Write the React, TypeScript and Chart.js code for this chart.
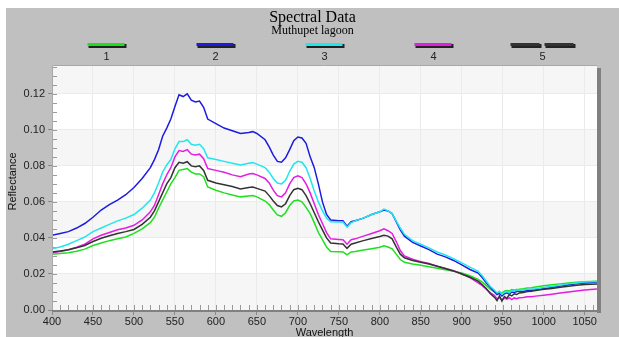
import React, { useEffect, useRef } from 'react';
import { Chart, registerables } from 'chart.js';
Chart.register(...registerables);

const TITLE = 'Spectral Data';
const SUBTITLE = 'Muthupet lagoon';
const X_TITLE = 'Wavelength';
const Y_TITLE = 'Reflectance';
const SERIES_LABELS = ['1', '2', '3', '4', '5'];
const SERIES_COLORS = ['#1ee01e', '#1c1ce0', '#22e6ee', '#e21ee2', '#333333'];

const WAVELENGTHS = [
  400, 410, 420, 430, 440, 450, 460, 470, 480, 490,
  500, 510, 520, 525, 530, 535, 540, 545, 550, 555,
  560, 565, 570, 575, 580, 585, 590, 600, 610, 620,
  630, 640, 645, 650, 660, 665, 670, 675, 680, 685,
  690, 695, 700, 705, 710, 715, 720, 725, 730, 735,
  740, 750, 755, 760, 765, 770, 780, 790, 800, 805,
  810, 815, 820, 825, 830, 840, 850, 860, 870, 880,
  890, 900, 910, 920, 925, 930, 935, 940, 943, 946,
  949, 952, 955, 958, 961, 964, 967, 970, 975, 980,
  985, 990, 1000, 1010, 1020, 1030, 1040, 1050, 1065,
];

const S1_GREEN = [
  0.0310, 0.0313, 0.0318, 0.0326, 0.0338, 0.0358, 0.0372, 0.0385, 0.0395, 0.0405,
  0.0425, 0.0450, 0.0485, 0.0515, 0.0565, 0.0610, 0.0655, 0.0700, 0.0735, 0.0775,
  0.0780, 0.0785, 0.0765, 0.0755, 0.0755, 0.0740, 0.0683, 0.0665, 0.0650, 0.0638,
  0.0628, 0.0633, 0.0635, 0.0628, 0.0605, 0.0585, 0.0555, 0.0528, 0.0520, 0.0540,
  0.0580, 0.0605, 0.0610, 0.0600, 0.0570, 0.0535, 0.0485, 0.0430, 0.0390, 0.0350,
  0.0325, 0.0323, 0.0322, 0.0306, 0.0322, 0.0325, 0.0333, 0.0340, 0.0348, 0.0356,
  0.0350, 0.0340, 0.0310, 0.0280, 0.0265, 0.0255, 0.0248, 0.0240, 0.0232, 0.0224,
  0.0215, 0.0205, 0.0190, 0.0170, 0.0155, 0.0135, 0.0115, 0.0100, 0.0092, 0.0100,
  0.0094, 0.0104, 0.0108, 0.0105, 0.0113, 0.0110, 0.0114, 0.0115, 0.0118, 0.0122,
  0.0124, 0.0128, 0.0135, 0.0140, 0.0145, 0.0150, 0.0154, 0.0157, 0.0160,
];

const S2_BLUE = [
  0.0415, 0.0425, 0.0435, 0.0455, 0.0480, 0.0515, 0.0555, 0.0585, 0.0610, 0.0640,
  0.0680, 0.0730, 0.0790, 0.0835, 0.0890, 0.0965, 0.1010, 0.1060, 0.1130, 0.1195,
  0.1185, 0.1200, 0.1165, 0.1155, 0.1160, 0.1125, 0.1060, 0.1035, 0.1010, 0.0995,
  0.0980, 0.0985, 0.0990, 0.0980, 0.0945, 0.0905, 0.0860, 0.0825, 0.0820, 0.0845,
  0.0890, 0.0940, 0.0960, 0.0955, 0.0925, 0.0850, 0.0790, 0.0700, 0.0600, 0.0530,
  0.0500, 0.0495, 0.0495, 0.0465, 0.0490, 0.0495, 0.0510, 0.0530, 0.0545, 0.0555,
  0.0550, 0.0535, 0.0490, 0.0445, 0.0410, 0.0375, 0.0355, 0.0335, 0.0310, 0.0295,
  0.0275, 0.0250, 0.0225, 0.0205, 0.0180, 0.0150, 0.0125, 0.0100, 0.0085, 0.0092,
  0.0078, 0.0090, 0.0095, 0.0088, 0.0100, 0.0097, 0.0103, 0.0105, 0.0103, 0.0108,
  0.0110, 0.0112, 0.0118, 0.0125, 0.0133, 0.0140, 0.0145, 0.0150, 0.0155,
];

const S3_CYAN = [
  0.0340, 0.0350, 0.0365, 0.0385, 0.0405, 0.0435, 0.0455, 0.0475, 0.0495, 0.0510,
  0.0530, 0.0565, 0.0610, 0.0650, 0.0705, 0.0765, 0.0805, 0.0835, 0.0895, 0.0935,
  0.0935, 0.0945, 0.0920, 0.0915, 0.0920, 0.0895, 0.0845, 0.0835, 0.0825, 0.0815,
  0.0805, 0.0815, 0.0818, 0.0810, 0.0790, 0.0765, 0.0730, 0.0705, 0.0700, 0.0720,
  0.0770, 0.0810, 0.0825, 0.0820, 0.0790, 0.0730, 0.0660, 0.0600, 0.0550, 0.0510,
  0.0490, 0.0488, 0.0488, 0.0460, 0.0485, 0.0495, 0.0510, 0.0530, 0.0545, 0.0560,
  0.0550, 0.0535, 0.0495, 0.0455, 0.0420, 0.0385, 0.0365, 0.0345, 0.0322, 0.0305,
  0.0285, 0.0262, 0.0238, 0.0215, 0.0190, 0.0160, 0.0130, 0.0110, 0.0095, 0.0104,
  0.0088, 0.0098, 0.0102, 0.0095, 0.0108, 0.0104, 0.0110, 0.0110, 0.0112, 0.0115,
  0.0116, 0.0118, 0.0125, 0.0132, 0.0138, 0.0145, 0.0150, 0.0155, 0.0158,
];

const S4_MAGENTA = [
  0.0318, 0.0325, 0.0335, 0.0348, 0.0365, 0.0395, 0.0415, 0.0430, 0.0445, 0.0455,
  0.0470, 0.0500, 0.0545, 0.0580, 0.0640, 0.0700, 0.0750, 0.0790, 0.0850, 0.0885,
  0.0880, 0.0890, 0.0865, 0.0860, 0.0865, 0.0840, 0.0785, 0.0775, 0.0765, 0.0750,
  0.0740, 0.0755, 0.0758, 0.0750, 0.0730, 0.0705, 0.0665, 0.0635, 0.0628, 0.0650,
  0.0700, 0.0735, 0.0745, 0.0735, 0.0700, 0.0650, 0.0590, 0.0530, 0.0480, 0.0430,
  0.0395, 0.0392, 0.0390, 0.0365, 0.0390, 0.0395, 0.0410, 0.0425, 0.0440, 0.0450,
  0.0440, 0.0425, 0.0380, 0.0330, 0.0300, 0.0282, 0.0268, 0.0258, 0.0243, 0.0230,
  0.0218, 0.0200, 0.0180, 0.0150, 0.0135, 0.0115, 0.0095, 0.0080, 0.0062, 0.0070,
  0.0055, 0.0066, 0.0060, 0.0068, 0.0058, 0.0067, 0.0063, 0.0068, 0.0070, 0.0073,
  0.0074, 0.0077, 0.0082, 0.0088, 0.0094, 0.0100, 0.0106, 0.0111, 0.0117,
];

const S5_BLACK = [
  0.0322, 0.0328, 0.0335, 0.0345, 0.0358, 0.0380, 0.0398, 0.0412, 0.0425, 0.0435,
  0.0447, 0.0475, 0.0515, 0.0550, 0.0600, 0.0650, 0.0700, 0.0735, 0.0790, 0.0820,
  0.0815, 0.0823, 0.0800, 0.0795, 0.0800, 0.0775, 0.0720, 0.0705, 0.0695, 0.0685,
  0.0672, 0.0680, 0.0683, 0.0675, 0.0660, 0.0635, 0.0605, 0.0580, 0.0572, 0.0590,
  0.0635, 0.0668, 0.0675, 0.0668, 0.0635, 0.0590, 0.0540, 0.0490, 0.0445, 0.0400,
  0.0372, 0.0368, 0.0367, 0.0342, 0.0365, 0.0372, 0.0385, 0.0397, 0.0408, 0.0415,
  0.0410, 0.0395, 0.0350, 0.0310, 0.0290, 0.0275, 0.0265, 0.0255, 0.0243, 0.0230,
  0.0217, 0.0200, 0.0182, 0.0160, 0.0140, 0.0118, 0.0090, 0.0070, 0.0052, 0.0078,
  0.0050, 0.0075, 0.0065, 0.0085, 0.0078, 0.0090, 0.0086, 0.0095, 0.0097, 0.0102,
  0.0104, 0.0108, 0.0115, 0.0120, 0.0126, 0.0132, 0.0137, 0.0141, 0.0144,
];

const SERIES = [S1_GREEN, S2_BLUE, S3_CYAN, S4_MAGENTA, S5_BLACK];

const X_MIN = 400;
const X_MAX = 1065;
const X_STEP = 50;
const X_MINOR = 10;
const Y_MIN = 0;
const Y_MAX = 0.136;
const Y_STEP = 0.02;
const Y_MINOR = 0.005;

const SANS = '"Liberation Sans", Arial, sans-serif';
const SERIF = '"Liberation Serif", "Times New Roman", serif';

const stepTicks = (min: number, max: number, step: number) => {
  const out: { value: number }[] = [];
  const n = Math.floor((max - min) / step + 1e-6);
  for (let i = 0; i <= n; i++) out.push({ value: +(min + i * step).toFixed(6) });
  return out;
};

const decor = {
  id: 'decor',
  beforeDraw(chart: any) {
    const { ctx, chartArea: a, scales } = chart;
    const y = scales.y;
    ctx.save();
    ctx.fillStyle = '#ffffff';
    ctx.fillRect(a.left, a.top, a.right - a.left, a.bottom - a.top);
    ctx.fillStyle = '#f6f6f6';
    for (let b = Y_MIN; b < Y_MAX - 1e-9; b += 2 * Y_STEP) {
      const p0 = y.getPixelForValue(b);
      const p1 = y.getPixelForValue(Math.min(b + Y_STEP, Y_MAX));
      ctx.fillRect(a.left, p1, a.right - a.left, p0 - p1);
    }
    // titles
    ctx.fillStyle = '#000';
    ctx.textAlign = 'center';
    ctx.textBaseline = 'middle';
    ctx.font = `16px ${SERIF}`;
    ctx.fillText(TITLE, chart.width / 2, 10);
    ctx.font = `12px ${SERIF}`;
    ctx.fillText(SUBTITLE, chart.width / 2, 23);
    // legend
    const colW = (a.right - a.left) / SERIES_LABELS.length;
    chart.data.datasets.forEach((ds: any, i: number) => {
      const cx = a.left + colW * (i + 0.5);
      const sy = 37;
      const drawSwatch = (x0: number, w: number) => {
        ctx.fillStyle = '#222';
        ctx.fillRect(x0 + 1, sy - 1, w, 4);
        ctx.fillStyle = ds.borderColor;
        ctx.fillRect(x0, sy - 2, w - 1, 3);
      };
      if (i === 4) {
        drawSwatch(cx - 32, 30);
        drawSwatch(cx + 2, 30);
      } else {
        drawSwatch(cx - 19, 38);
      }
      ctx.fillStyle = '#222';
      ctx.font = `11px ${SANS}`;
      ctx.fillText(ds.label, cx, 49);
    });
    // axis titles
    ctx.font = `11px ${SANS}`;
    ctx.fillStyle = '#111';
    ctx.fillText(X_TITLE, (a.left + a.right) / 2, 325);
    ctx.save();
    ctx.translate(7, (a.top + a.bottom) / 2 - 6);
    ctx.rotate(-Math.PI / 2);
    ctx.fillText(Y_TITLE, 0, 0);
    ctx.restore();
    ctx.restore();
  },
  beforeDatasetsDraw(chart: any) {
    const { ctx, chartArea: a, scales } = chart;
    ctx.save();
    ctx.strokeStyle = '#9a9a9a';
    ctx.lineWidth = 1;
    ctx.beginPath();
    for (let v = X_MIN + X_MINOR; v < X_MAX; v += X_MINOR) {
      const px = Math.round(scales.x.getPixelForValue(v)) + 0.5;
      ctx.moveTo(px, a.bottom);
      ctx.lineTo(px, a.bottom - 5);
    }
    for (let v = Y_MIN + Y_MINOR; v < Y_MAX; v += Y_MINOR) {
      const py = Math.round(scales.y.getPixelForValue(v)) + 0.5;
      ctx.moveTo(a.left, py);
      ctx.lineTo(a.left + 5, py);
    }
    ctx.stroke();
    ctx.restore();
  },
  afterDatasetsDraw(chart: any) {
    const { ctx, chartArea: a } = chart;
    ctx.save();
    ctx.strokeStyle = '#a8a8a8';
    ctx.lineWidth = 1;
    ctx.beginPath();
    ctx.moveTo(a.left + 0.5, a.bottom);
    ctx.lineTo(a.left + 0.5, a.top + 0.5);
    ctx.lineTo(a.right, a.top + 0.5);
    ctx.stroke();
    ctx.fillStyle = '#808080';
    ctx.fillRect(a.right, a.top + 3, 4, a.bottom - a.top);
    ctx.fillRect(a.left, a.bottom, a.right - a.left + 4, 2);
    ctx.restore();
  },
};

export default function App() {
  const ref = useRef<HTMLCanvasElement>(null);
  useEffect(() => {
    const datasets = SERIES.map((vals, i) => ({
      label: SERIES_LABELS[i],
      data: WAVELENGTHS.map((w, j) => ({ x: w, y: vals[j] })),
      borderColor: SERIES_COLORS[i],
      backgroundColor: SERIES_COLORS[i],
      borderWidth: 1.5,
      pointRadius: 0,
      tension: 0,
      order: 5 - i,
    }));
    const chart = new Chart(ref.current!, {
      type: 'line',
      data: { datasets },
      plugins: [decor],
      options: {
        animation: false,
        responsive: false,
        layout: { padding: { top: 57, right: 22, left: 0, bottom: 0 } },
        plugins: { legend: { display: false }, title: { display: false }, tooltip: { enabled: false } },
        scales: {
          x: {
            type: 'linear',
            min: X_MIN,
            max: X_MAX,
            ticks: {
              stepSize: X_STEP,
              color: '#222',
              font: { family: SANS, size: 11 },
              padding: 0,
              maxRotation: 0,
              autoSkip: false,
              callback: (v: any) => String(v),
            },
            afterBuildTicks: (s: any) => { s.ticks = stepTicks(X_MIN, X_MAX, X_STEP); },
            afterFit: (s: any) => { s.height = 27; },
            grid: { color: '#ebebeb', tickColor: '#8a8a8a', tickLength: 5 },
            border: { display: false },
          },
          y: {
            type: 'linear',
            min: Y_MIN,
            max: Y_MAX,
            ticks: {
              stepSize: Y_STEP,
              color: '#222',
              font: { family: SANS, size: 11 },
              padding: 3,
              autoSkip: false,
              callback: (v: any) => Number(v).toFixed(2),
            },
            afterBuildTicks: (s: any) => { s.ticks = stepTicks(Y_MIN, Y_MAX, Y_STEP); },
            afterFit: (s: any) => { s.width = 46; },
            grid: { color: '#ebebeb', tickColor: '#8a8a8a', tickLength: 4 },
            border: { display: false },
          },
        },
      },
    });
    return () => chart.destroy();
  }, []);
  return (
    <div style={{ position: 'fixed', left: 0, top: 0, width: 619, height: 337, background: '#fff', overflow: 'hidden' }}>
      <div style={{ position: 'absolute', left: 6, top: 8, width: 613, height: 329, background: '#c0c0c0' }}>
        <canvas ref={ref} width={613} height={329} style={{ display: 'block', width: 613, height: 329 }} />
      </div>
    </div>
  );
}
